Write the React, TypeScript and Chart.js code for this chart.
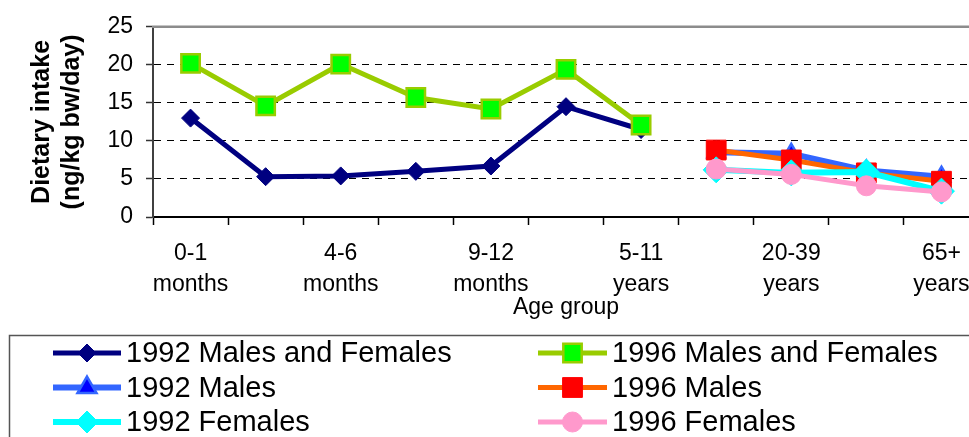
import React, { useEffect, useRef } from "react";
import { Chart, registerables } from "chart.js";
import { drawPoint } from "chart.js/helpers";

Chart.register(...registerables);

// ---- data ----
const categories = [
  "0-1 months",
  "2-3 months",
  "4-6 months",
  "7-8 months",
  "9-12 months",
  "1-4 years",
  "5-11 years",
  "12-19 years",
  "20-39 years",
  "40-64 years",
  "65+ years",
];
const tickLines = [
  ["0-1", "months"],
  ["2-3", "months"],
  ["4-6", "months"],
  ["7-8", "months"],
  ["9-12", "months"],
  ["1-4", "years"],
  ["5-11", "years"],
  ["12-19", "years"],
  ["20-39", "years"],
  ["40-64", "years"],
  ["65+", "years"],
];
const mf1992 = [13.0, 5.3, 5.4, 6.0, 6.7, 14.5, 11.5, null, null, null, null];
const mf1996 = [20.2, 14.6, 20.1, 15.7, 14.2, 19.4, 12.1, null, null, null, null];
const males1992 = [null, null, null, null, null, null, null, 8.5, 8.3, 6.1, 5.3];
const males1996 = [null, null, null, null, null, null, null, 8.8, 7.5, 5.8, 4.7];
const females1992 = [null, null, null, null, null, null, null, 6.2, 5.8, 5.9, 3.4];
const females1996 = [null, null, null, null, null, null, null, 6.3, 5.6, 4.1, 3.3];
const yTicks = [0, 5, 10, 15, 20, 25];

const FONT = '"Liberation Sans", Arial, sans-serif';

const legendPlugin = {
  id: "boxLegend",
  afterDraw(chart: any) {
    const ctx = chart.ctx;
    const area = chart.chartArea;
    ctx.save();
    // top frame line of plot area
    ctx.strokeStyle = "#8c8c8c";
    ctx.lineWidth = 2.5;
    ctx.beginPath();
    ctx.moveTo(area.left - 1, area.top);
    ctx.lineTo(chart.width, area.top);
    ctx.stroke();

    // legend box
    ctx.strokeStyle = "#555";
    ctx.lineWidth = 1.5;
    ctx.strokeRect(9.5, 335.5, chart.width + 20, 200);

    chart.data.datasets.forEach((ds: any, i: number) => {
      const col = i % 2;
      const row = Math.floor(i / 2);
      const x0 = col ? 538 : 53;
      const x1 = col ? 607 : 121;
      const mx = (x0 + x1) / 2;
      const y = 353 + row * 34.5;
      ctx.strokeStyle = ds.borderColor;
      ctx.lineWidth = ds.borderWidth;
      ctx.setLineDash([]);
      ctx.beginPath();
      ctx.moveTo(x0, y);
      ctx.lineTo(x1, y);
      ctx.stroke();
      ctx.fillStyle = ds.pointBackgroundColor;
      ctx.strokeStyle = ds.pointBorderColor;
      ctx.lineWidth = ds.pointBorderWidth;
      drawPoint(
        ctx,
        {
          pointStyle: ds.pointStyle,
          radius: ds.legendRadius,
          rotation: 0,
          borderWidth: ds.pointBorderWidth,
        },
        mx,
        y
      );
      ctx.fillStyle = "#000";
      ctx.font = `29px ${FONT}`;
      ctx.textBaseline = "middle";
      ctx.textAlign = "left";
      ctx.fillText(ds.label, col ? 612 : 126, y + 1);
    });
    ctx.restore();
  },
};

export default function App() {
  const ref = useRef<HTMLCanvasElement | null>(null);

  useEffect(() => {
    const canvas = ref.current;
    if (!canvas) return;
    const mk = (
      label: string,
      data: (number | null)[],
      line: string,
      fill: string,
      border: string,
      style: string,
      radius: number,
      bw: number,
      lw: number,
      order: number,
      legendRadius: number
    ) => ({
      label,
      data,
      borderColor: line,
      backgroundColor: fill,
      pointBackgroundColor: fill,
      pointBorderColor: border,
      pointBorderWidth: bw,
      pointStyle: style,
      pointRadius: radius,
      pointHoverRadius: radius,
      borderWidth: lw,
      tension: 0,
      spanGaps: false,
      fill: false,
      order,
      legendRadius,
    });

    const chart = new Chart(canvas, {
      type: "line",
      data: {
        labels: categories,
        datasets: [
          mk("1992 Males and Females", mf1992, "#000080", "#000080", "#000080", "rectRot", 9, 1, 5, 10, 9) as any,
          mk("1996 Males and Females", mf1996, "#99CC00", "#00FF00", "#99CC00", "rect", 13, 2.5, 5, 9, 13) as any,
          mk("1992 Males", males1992, "#3366FF", "#0000FF", "#3366FF", "triangle", 10, 2.5, 6, 8, 11) as any,
          mk("1996 Males", males1996, "#FF6600", "#FF0000", "#FF0000", "rect", 14, 1, 5, 7, 14) as any,
          mk("1992 Females", females1992, "#00FFFF", "#00FFFF", "#00FFFF", "rectRot", 13, 1, 6, 6, 11) as any,
          mk("1996 Females", females1996, "#FF99CC", "#FF99CC", "#FF99CC", "circle", 10, 1, 5, 5, 10) as any,
        ],
      },
      options: {
        responsive: false,
        animation: false,
        events: [],
        layout: { padding: { left: 0, top: 25, right: 21, bottom: 116 } },
        plugins: {
          legend: { display: false },
          tooltip: { enabled: false },
          title: { display: false },
        },
        scales: {
          x: {
            type: "category",
            offset: true,
            grid: {
              offset: true,
              drawOnChartArea: false,
              drawTicks: true,
              tickLength: 8,
              tickColor: "#000",
              tickWidth: 1.5,
            },
            border: { display: true, color: "#000", width: 2 },
            ticks: {
              autoSkip: false,
              maxRotation: 0,
              minRotation: 0,
              padding: 13,
              color: "#000",
              font: { family: FONT, size: 23, lineHeight: 1.35 },
              callback: (_v: any, i: number) => (i % 2 === 0 ? tickLines[i] : ""),
            },
            title: {
              display: true,
              text: "Age group",
              color: "#000",
              font: { family: FONT, size: 23, lineHeight: 1.2 },
              padding: { top: 0, bottom: 0 },
            },
            afterFit: (s: any) => {
              s.height = 104;
            },
          },
          y: {
            min: 0,
            max: 25,
            afterBuildTicks: (s: any) => {
              s.ticks = yTicks.map((v) => ({ value: v }));
            },
            grid: {
              color: (c: any) =>
                c.tick && (c.tick.value === 0 || c.tick.value === 25) ? "rgba(0,0,0,0)" : "#000",
              lineWidth: 1,
              drawTicks: true,
              tickLength: 7,
              tickColor: "#333",
              tickWidth: 1.5,
              tickBorderDash: [],
            },
            border: { display: true, color: "#404040", width: 2, dash: [7, 6] },
            ticks: {
              padding: 13,
              color: "#000",
              font: { family: FONT, size: 23 },
            },
            title: {
              display: true,
              text: ["Dietary intake", "(ng/kg bw/day)"],
              color: "#000",
              font: { family: FONT, size: 25, weight: "bold", lineHeight: 1.2 },
              padding: { top: 27, bottom: 0 },
            },
            afterFit: (s: any) => {
              s.width = 153;
            },
          },
        },
      },
      plugins: [legendPlugin],
    } as any);
    return () => chart.destroy();
  }, []);

  return (
    <div
      style={{
        position: "fixed",
        left: 0,
        top: 0,
        width: 969,
        height: 437,
        overflow: "hidden",
        background: "#fff",
      }}
    >
      <canvas ref={ref} width={1000} height={437} style={{ width: 1000, height: 437, display: "block" }} />
    </div>
  );
}
